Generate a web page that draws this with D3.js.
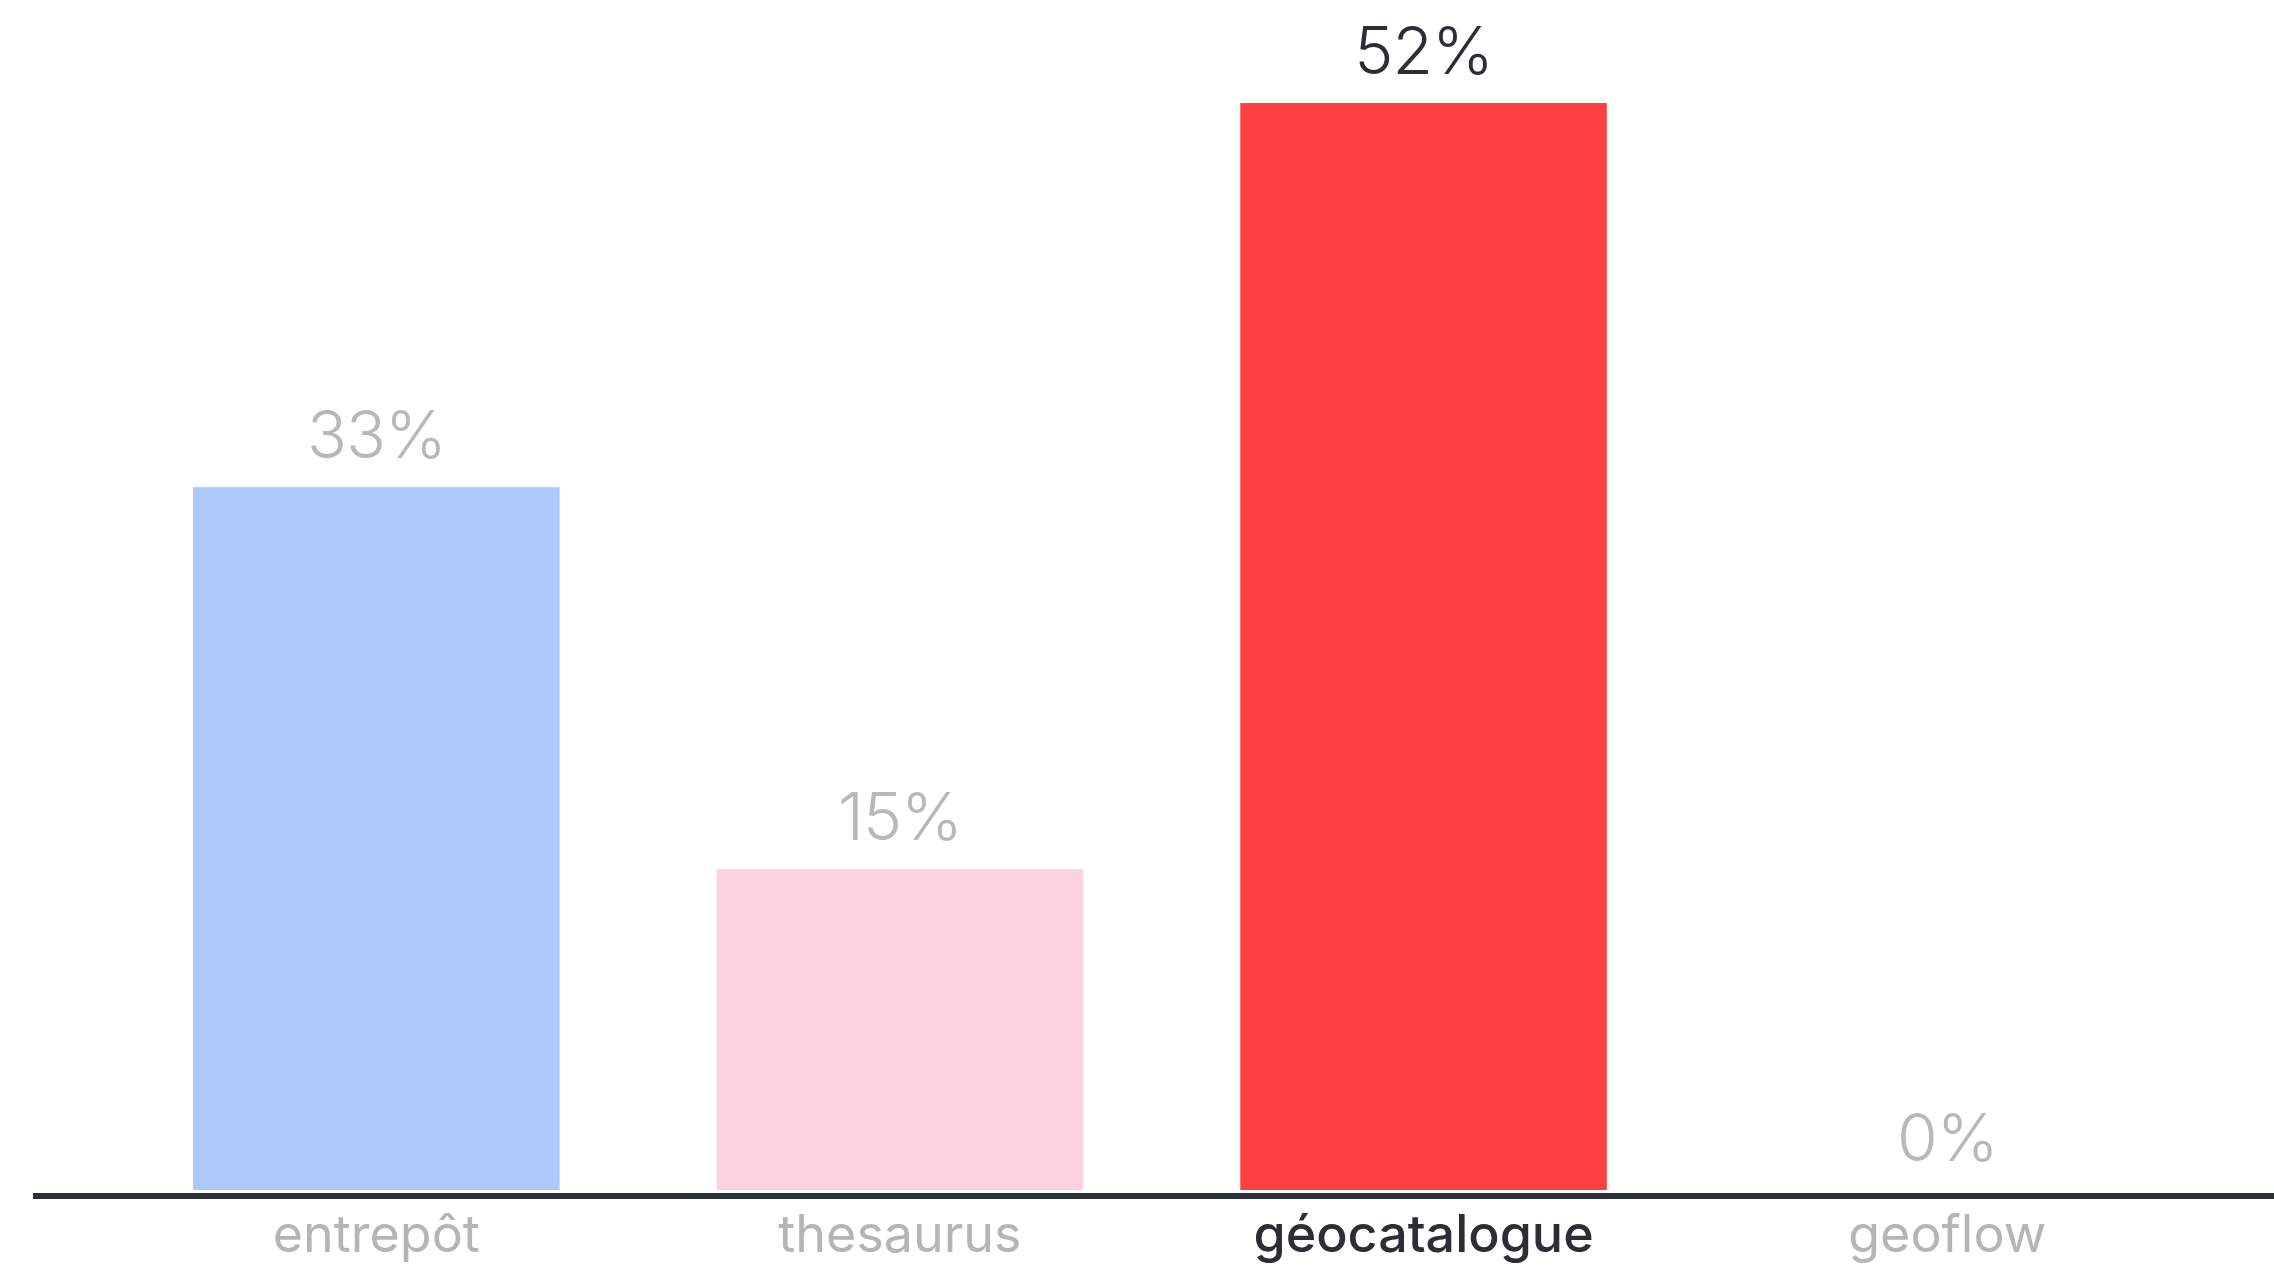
<!DOCTYPE html>
<html>
<head>
<meta charset="utf-8">
<script src="https://cdn.jsdelivr.net/npm/d3@7"></script>
<style>
  html, body { margin: 0; padding: 0; background: #ffffff; }
  svg { display: block; }
</style>
</head>
<body>
<script>
const categories = ["entrepôt", "thesaurus", "géocatalogue", "geoflow"];
const values = [33.3, 15.2, 51.5, 0];
const valueLabels = ["33%", "15%", "52%", "0%"];
const barColors = ["#adc9fb", "#fcd2e0", "#ff4040", "#d0d0d0"];
const highlighted = ["géocatalogue"];

const W = 2274, H = 1269;
const baseline = 1190;
const topY = 103;

const svg = d3.select("body").append("svg")
  .attr("width", W).attr("height", H);

const x = d3.scaleBand()
  .domain(categories)
  .range([114.5, 2209])
  .paddingInner(0.3)
  .paddingOuter(0.15);

const y = d3.scaleLinear()
  .domain([0, d3.max(values)])
  .range([baseline, topY]);

const data = categories.map((c, i) => ({ c, v: values[i], label: valueLabels[i], color: barColors[i] }));

svg.selectAll("rect.bar")
  .data(data)
  .join("rect")
  .attr("class", "bar")
  .attr("x", d => x(d.c))
  .attr("width", x.bandwidth())
  .attr("y", d => y(d.v))
  .attr("height", d => baseline - y(d.v))
  .attr("fill", d => d.color);

const font = "Inter, 'Open Sans', sans-serif";

svg.selectAll("text.val")
  .data(data)
  .join("text")
  .attr("class", "val")
  .attr("x", d => x(d.c) + x.bandwidth() / 2)
  .attr("y", d => y(d.v) - 29)
  .attr("text-anchor", "middle")
  .attr("font-family", font)
  .attr("font-size", 66)
  .attr("font-weight", 300)
  .attr("letter-spacing", -1)
  .attr("fill", d => highlighted.includes(d.c) ? "#2b2e35" : "#b8b8b8")
  .text(d => d.label);

// axis
const axis = svg.append("g")
  .attr("transform", `translate(0,${baseline + 6})`)
  .call(d3.axisBottom(x).tickSize(0));

axis.select(".domain").remove();
axis.append("line")
  .attr("x1", 33).attr("x2", W)
  .attr("y1", 0).attr("y2", 0)
  .attr("stroke", "#2b2f38")
  .attr("stroke-width", 6);

axis.selectAll(".tick text")
  .attr("y", 56)
  .attr("dy", 0)
  .attr("font-family", font)
  .attr("font-size", 52)
  .attr("font-weight", d => highlighted.includes(d) ? 500 : 400)
  .attr("fill", d => highlighted.includes(d) ? "#2b2e35" : "#b5b5b5");
</script>
</body>
</html>
